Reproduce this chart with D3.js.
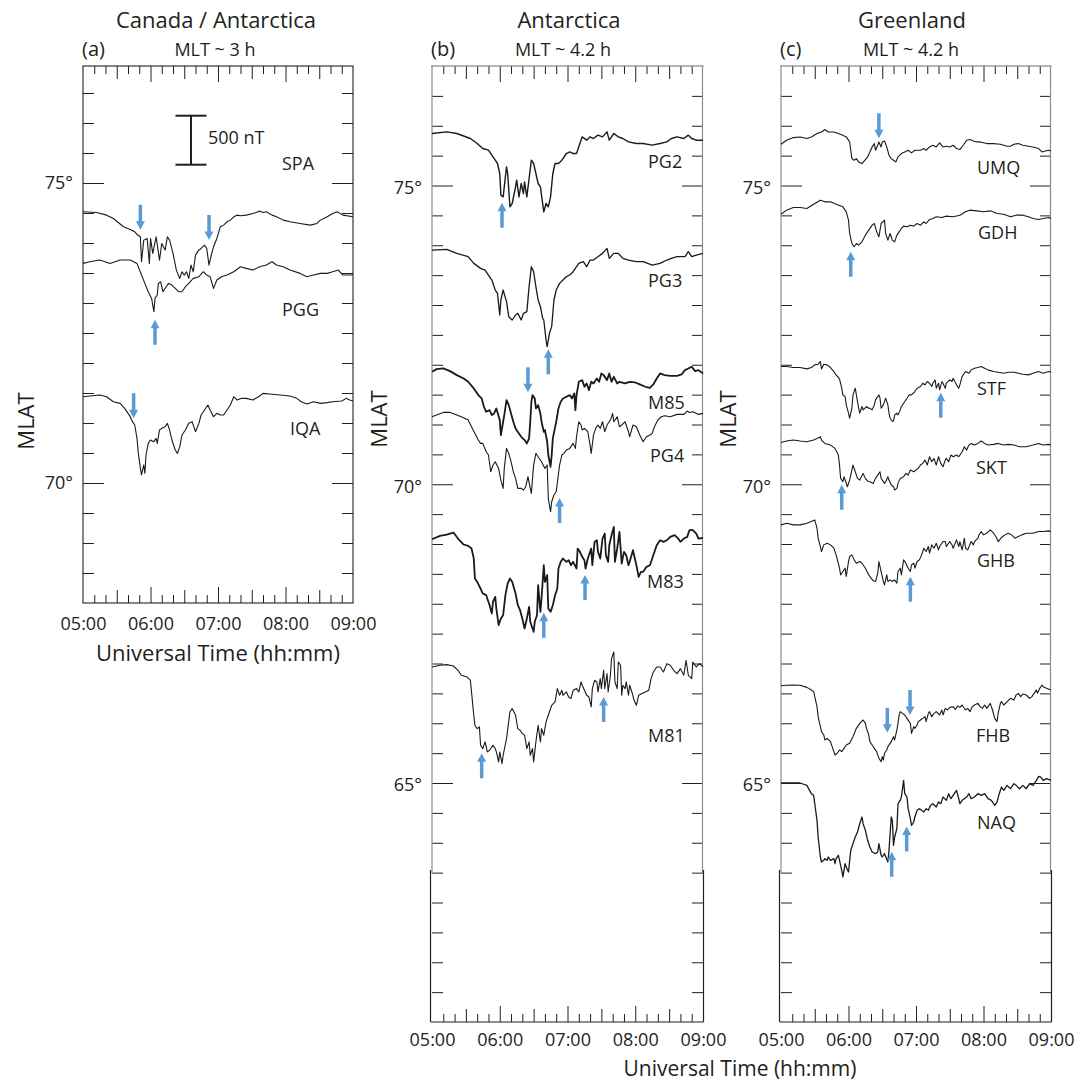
<!DOCTYPE html>
<html><head><meta charset="utf-8">
<script src="https://cdn.jsdelivr.net/npm/d3@7"></script>
<style>
body{margin:0;background:#fff;}
svg{display:block;font-family:"Open Sans",sans-serif;}
</style></head><body>
<svg id="chart" width="1091" height="1082"></svg>
<script>
// ---------------- DATA ----------------
// time in minutes after 05:00 UT, value = H perturbation in nT relative to station baseline
const timeTickValues = [0, 60, 120, 180, 240];
const timeTickLabels = ["05:00", "06:00", "07:00", "08:00", "09:00"];
const latTickLabelsA = [70, 75];
const latTickLabelsBC = [65, 70, 75];

const stationsA = ["SPA", "PGG", "IQA"];
const mlatA = [74.52, 73.66, 71.45];
const stationsB = ["PG2", "PG3", "M85", "PG4", "M83", "M81"];
const mlatB = [75.87, 73.92, 71.91, 71.13, 69.08, 66.97];
const stationsC = ["UMQ", "GDH", "STF", "SKT", "GHB", "FHB", "NAQ"];
const mlatC = [75.69, 74.52, 71.97, 70.70, 69.32, 66.64, 65.00];

const SPA = [[0,0],[12,-7],[21,-34],[27,-68],[36,-153],[42,-180],[46,-204],[48,-231],[51,-255],[52,-510],[54,-289],[57,-272],[59,-527],[60,-272],[62,-425],[65,-255],[68,-493],[70,-323],[73,-391],[75,-255],[77,-289],[80,-425],[83,-595],[86,-680],[88,-612],[90,-646],[92,-612],[94,-680],[96,-544],[98,-612],[100,-442],[103,-391],[105,-374],[108,-340],[110,-374],[112,-544],[114,-442],[116,-357],[119,-272],[122,-153],[125,-136],[128,-102],[131,-85],[134,-51],[137,-34],[140,-41],[145,-34],[151,-17],[154,-7],[157,7],[160,-7],[163,0],[168,-34],[172,-51],[178,-85],[184,-102],[193,-119],[202,-136],[208,-119],[211,-85],[217,-51],[222,-17],[226,0],[231,-34],[240,-51]];
const PGG = [[0,0],[6,17],[15,34],[24,0],[33,34],[42,34],[48,0],[52,-119],[55,-204],[58,-289],[61,-357],[62,-425],[63,-493],[64,-357],[66,-323],[67,-204],[69,-187],[71,-289],[74,-238],[76,-204],[79,-221],[82,-255],[85,-289],[88,-289],[91,-238],[94,-204],[98,-153],[103,-136],[107,-85],[110,-119],[113,-136],[116,-255],[119,-170],[123,-136],[128,-119],[134,-85],[140,-34],[145,-51],[151,-68],[157,-34],[163,-17],[168,17],[172,-17],[178,-34],[184,-68],[193,-102],[199,-136],[205,-119],[211,-102],[217,-102],[222,-85],[227,-68],[231,-119],[240,-119]];
const IQA = [[0,-7],[6,0],[15,10],[21,-7],[27,-58],[33,-75],[37,-126],[40,-177],[42,-211],[44,-262],[46,-296],[48,-432],[49,-568],[51,-738],[52,-806],[54,-704],[55,-789],[56,-602],[58,-483],[60,-449],[63,-466],[65,-432],[66,-483],[68,-347],[70,-330],[73,-313],[75,-279],[77,-347],[79,-449],[82,-551],[84,-585],[86,-517],[88,-398],[91,-347],[94,-279],[97,-262],[100,-364],[103,-279],[105,-194],[108,-143],[111,-92],[113,-143],[116,-211],[119,-177],[122,-194],[125,-194],[128,-143],[131,-92],[134,-7],[137,-41],[141,-24],[145,-24],[151,-41],[156,-7],[160,27],[166,20],[175,10],[184,0],[190,-24],[194,-58],[199,-82],[205,-58],[211,-75],[217,-68],[222,-58],[230,-51],[234,-24],[237,-41],[240,-48]];

const PG2 = [[0,0],[13,17],[22,0],[34,-51],[40,-102],[45,-153],[50,-170],[53,-221],[56,-272],[58,-306],[60,-408],[61,-629],[63,-646],[66,-340],[67,-408],[69,-748],[71,-714],[74,-544],[75,-476],[77,-646],[79,-510],[81,-612],[82,-493],[84,-646],[86,-459],[88,-272],[90,-306],[92,-408],[94,-510],[96,-544],[98,-714],[99,-799],[101,-714],[103,-748],[105,-646],[107,-408],[109,-306],[112,-306],[115,-272],[119,-204],[122,-187],[125,-204],[128,-204],[130,-136],[133,-34],[137,-68],[140,-34],[143,-51],[147,-17],[151,-34],[155,17],[157,-68],[161,0],[165,-34],[169,-51],[174,-85],[181,-102],[187,-102],[195,-119],[202,-102],[208,-85],[212,-51],[217,-34],[223,-51],[227,-17],[230,-51],[234,-68],[240,-68]];
const PG3 = [[0,0],[13,7],[22,-34],[32,-68],[37,-136],[43,-187],[47,-204],[50,-255],[53,-306],[56,-408],[58,-442],[60,-663],[61,-510],[63,-408],[66,-527],[68,-680],[71,-714],[74,-663],[76,-646],[79,-714],[81,-646],[84,-629],[86,-374],[88,-170],[90,-221],[92,-374],[94,-510],[96,-578],[98,-697],[99,-714],[101,-918],[102,-986],[104,-850],[106,-782],[108,-510],[110,-408],[113,-340],[116,-306],[119,-272],[122,-255],[125,-221],[128,-170],[130,-136],[134,-119],[137,-170],[140,-102],[143,-102],[147,-68],[151,-34],[155,17],[157,-85],[161,-34],[165,-34],[169,-85],[174,-102],[181,-119],[187,-119],[195,-153],[202,-136],[208,-102],[212,-85],[217,-68],[224,-68],[227,-17],[230,-68],[234,-51],[240,-34]];
const M85 = [[0,-17],[4,10],[10,17],[16,-10],[22,-51],[28,-85],[32,-119],[37,-187],[41,-255],[44,-289],[46,-374],[48,-425],[51,-408],[53,-459],[55,-442],[57,-391],[60,-510],[61,-663],[63,-527],[64,-459],[66,-306],[68,-357],[70,-442],[72,-527],[74,-595],[77,-646],[79,-680],[82,-714],[84,-748],[86,-697],[87,-527],[88,-323],[89,-255],[91,-289],[92,-391],[94,-357],[96,-442],[97,-527],[99,-629],[100,-612],[102,-731],[103,-867],[105,-986],[106,-867],[107,-697],[110,-527],[112,-391],[114,-323],[116,-289],[119,-272],[122,-255],[124,-289],[126,-238],[127,-408],[128,-255],[130,-119],[133,-102],[135,-170],[137,-136],[139,-204],[141,-119],[143,-136],[146,-85],[148,-119],[150,-34],[152,-51],[155,-102],[157,-34],[159,-119],[161,-68],[164,-136],[166,-119],[171,-136],[175,-119],[180,-126],[184,-146],[189,-170],[193,-180],[196,-146],[199,-85],[202,-34],[206,-51],[211,-58],[217,-58],[221,-44],[224,0],[227,17],[230,34],[233,-10],[236,0],[240,-34]];
const PG4 = [[0,0],[4,17],[10,44],[16,44],[22,17],[28,-10],[32,-34],[35,-102],[38,-170],[41,-238],[43,-272],[45,-272],[48,-357],[50,-391],[52,-561],[54,-493],[56,-459],[59,-527],[61,-646],[63,-731],[64,-527],[66,-323],[68,-374],[70,-459],[72,-561],[74,-629],[76,-731],[79,-731],[81,-748],[83,-714],[85,-612],[87,-731],[88,-782],[90,-493],[92,-374],[94,-408],[97,-459],[100,-527],[102,-493],[103,-833],[105,-969],[106,-867],[108,-799],[110,-765],[113,-493],[115,-391],[117,-374],[119,-340],[122,-323],[125,-272],[127,-323],[128,-204],[130,-51],[132,-85],[133,-136],[135,-119],[138,-153],[140,-289],[141,-374],[143,-187],[145,-119],[147,-85],[149,-119],[151,-51],[153,-153],[155,-85],[158,-34],[160,34],[161,-51],[164,0],[166,-102],[168,-85],[171,-51],[174,-153],[175,-204],[178,-85],[181,-102],[184,-187],[187,-255],[190,-204],[193,-187],[195,-170],[197,-102],[200,-34],[203,0],[206,10],[211,0],[217,24],[223,24],[226,58],[228,44],[231,51],[236,24],[240,34]];
const M83 = [[0,0],[7,34],[13,48],[19,68],[23,7],[28,-54],[32,-68],[35,-95],[37,-197],[38,-401],[40,-435],[43,-503],[45,-554],[48,-571],[51,-673],[53,-758],[54,-639],[56,-588],[57,-707],[59,-877],[61,-809],[63,-775],[65,-571],[67,-452],[69,-401],[71,-435],[74,-554],[76,-673],[78,-724],[80,-809],[82,-911],[84,-809],[86,-690],[87,-843],[90,-945],[91,-843],[93,-775],[94,-469],[96,-741],[97,-605],[99,-265],[100,-435],[102,-367],[103,-707],[105,-741],[107,-673],[109,-571],[111,-503],[112,-299],[114,-231],[116,-197],[119,-231],[121,-214],[123,-265],[125,-231],[128,-299],[129,-95],[131,-129],[133,-180],[135,-214],[136,-299],[138,-197],[141,-95],[142,-265],[144,-27],[146,-10],[147,-129],[149,-197],[151,7],[153,58],[154,-163],[156,-231],[157,-61],[159,41],[161,126],[162,-231],[164,-95],[166,75],[168,-248],[170,-129],[172,-163],[174,-265],[175,-231],[178,-112],[181,-265],[183,-384],[185,-333],[187,-333],[190,-282],[193,-265],[196,-163],[199,-61],[202,-10],[205,-27],[208,-10],[211,24],[215,41],[218,7],[220,-27],[223,7],[226,24],[228,92],[231,92],[234,58],[236,7],[240,14]];
const M81 = [[0,-17],[7,0],[13,7],[19,-7],[23,-51],[26,-102],[31,-119],[34,-153],[35,-272],[37,-510],[38,-612],[40,-646],[42,-629],[43,-816],[45,-850],[47,-782],[49,-884],[51,-867],[54,-816],[56,-850],[57,-884],[59,-986],[60,-884],[62,-1003],[63,-918],[66,-748],[69,-476],[71,-442],[74,-510],[76,-646],[78,-663],[80,-697],[82,-714],[84,-850],[86,-782],[87,-918],[89,-850],[90,-986],[92,-782],[94,-612],[96,-782],[97,-646],[99,-714],[101,-578],[103,-510],[106,-408],[109,-374],[111,-238],[113,-306],[115,-255],[116,-306],[119,-272],[121,-323],[123,-340],[125,-255],[128,-238],[130,-272],[132,-170],[133,-204],[135,-255],[137,-306],[139,-323],[141,-425],[142,-238],[144,-153],[146,-170],[147,-272],[149,-136],[150,-238],[152,-51],[153,-238],[155,-85],[156,-272],[158,-102],[159,68],[161,136],[162,-170],[164,-238],[165,34],[167,0],[168,-306],[169,-204],[171,-238],[172,-170],[174,-306],[175,-204],[177,-272],[179,-357],[181,-408],[183,-306],[186,-289],[189,-272],[192,-255],[194,-136],[196,-68],[199,-17],[202,-17],[205,-68],[208,17],[211,0],[214,-51],[217,-85],[220,-34],[223,-102],[225,51],[227,-102],[230,-136],[231,34],[234,-17],[237,17],[240,-17]];

const UMQ = [[0,0],[5,41],[11,68],[17,75],[23,58],[27,75],[32,109],[36,126],[39,150],[42,126],[47,126],[51,109],[55,92],[58,75],[61,24],[62,-61],[63,-146],[65,-163],[67,-146],[69,-180],[72,-197],[75,-156],[77,-129],[79,-78],[81,-27],[83,7],[84,-61],[86,-10],[87,24],[89,-27],[90,24],[92,34],[94,-27],[96,-112],[98,-146],[100,-163],[102,-180],[104,-129],[107,-95],[110,-78],[113,-61],[116,-88],[119,-61],[124,-61],[127,-44],[129,-61],[132,-27],[135,-10],[138,-27],[141,14],[144,-27],[147,-20],[150,-27],[153,-10],[156,-44],[159,-54],[162,-10],[165,41],[168,48],[171,34],[174,24],[177,24],[183,7],[189,7],[195,0],[201,-20],[204,-20],[207,0],[211,7],[215,-10],[220,-20],[224,-27],[229,-44],[232,-78],[235,-68],[238,-61],[240,-68]];
const GDH = [[0,0],[5,41],[11,68],[17,68],[23,58],[29,102],[35,143],[39,126],[44,126],[49,102],[55,75],[58,24],[60,-61],[61,-197],[63,-299],[65,-333],[67,-299],[69,-316],[72,-282],[75,-214],[78,-163],[81,-112],[83,-95],[85,-180],[87,-231],[88,-163],[89,-95],[92,-61],[93,-197],[95,-265],[97,-197],[99,-265],[101,-282],[103,-214],[105,-180],[107,-146],[109,-122],[112,-129],[115,-112],[118,-122],[121,-95],[124,-112],[127,-78],[129,-95],[132,-54],[135,-44],[138,-27],[143,-34],[147,-20],[153,-27],[159,-10],[164,24],[168,41],[174,34],[180,24],[186,34],[192,7],[198,0],[204,-27],[209,-10],[215,-10],[220,-27],[224,-44],[229,-54],[233,-44],[238,-34],[240,-44]];
const STF = [[0,0],[5,0],[11,-10],[17,-10],[23,-24],[27,-10],[30,17],[33,24],[35,51],[36,-24],[38,24],[41,17],[44,-10],[47,-51],[49,-85],[52,-126],[54,-221],[55,-289],[57,-306],[58,-391],[60,-476],[61,-527],[63,-425],[64,-289],[66,-221],[67,-289],[69,-425],[70,-476],[72,-408],[73,-442],[76,-408],[78,-425],[79,-425],[81,-442],[83,-391],[84,-340],[87,-289],[88,-323],[89,-425],[91,-391],[93,-323],[95,-391],[96,-476],[97,-527],[99,-561],[100,-554],[101,-493],[103,-476],[104,-493],[106,-442],[107,-408],[109,-374],[112,-323],[114,-289],[116,-289],[119,-255],[121,-221],[124,-204],[126,-170],[128,-187],[130,-153],[132,-170],[134,-204],[135,-170],[137,-136],[138,-221],[140,-170],[141,-238],[143,-153],[144,-170],[146,-221],[147,-170],[150,-136],[152,-153],[153,-119],[156,-187],[158,-221],[159,-187],[161,-102],[164,-51],[167,-68],[169,-34],[172,-17],[175,-10],[178,0],[181,-17],[184,-34],[189,-51],[193,-58],[198,-68],[202,-58],[207,-58],[211,-68],[215,-78],[220,-85],[224,-68],[229,-51],[233,-68],[238,-51],[240,-58]];
const SKT = [[0,0],[5,14],[11,24],[17,14],[23,7],[29,24],[32,41],[35,58],[36,24],[39,-10],[44,-27],[48,-61],[51,-129],[52,-231],[53,-367],[55,-401],[56,-350],[58,-418],[59,-452],[61,-384],[62,-333],[64,-231],[66,-299],[68,-367],[70,-384],[73,-316],[75,-367],[77,-394],[79,-401],[82,-418],[84,-367],[87,-316],[88,-299],[89,-367],[92,-418],[93,-401],[95,-350],[96,-384],[98,-435],[100,-452],[101,-486],[103,-469],[104,-418],[106,-367],[109,-350],[111,-316],[113,-333],[115,-282],[118,-299],[120,-282],[122,-265],[124,-231],[126,-214],[128,-180],[130,-231],[132,-146],[134,-197],[136,-163],[138,-231],[140,-146],[142,-214],[144,-248],[146,-180],[147,-163],[149,-197],[151,-129],[153,-146],[156,-129],[158,-146],[161,-95],[163,-44],[165,-78],[167,-27],[169,-10],[172,-27],[175,-10],[178,14],[181,-10],[184,-27],[189,-20],[193,-10],[198,-27],[202,-20],[207,-27],[212,-44],[218,-44],[224,-27],[229,-10],[233,-27],[238,-20],[240,-27]];
const GHB = [[0,0],[5,17],[11,0],[17,0],[23,17],[27,34],[30,51],[32,-34],[33,-136],[35,-221],[36,-272],[38,-204],[41,-187],[44,-204],[47,-238],[49,-306],[52,-442],[53,-510],[55,-476],[57,-442],[58,-527],[60,-374],[61,-323],[63,-306],[65,-357],[67,-391],[70,-374],[72,-391],[75,-442],[78,-510],[80,-544],[82,-571],[84,-578],[86,-493],[87,-374],[89,-476],[91,-578],[92,-612],[94,-510],[95,-578],[97,-561],[99,-578],[101,-561],[103,-595],[104,-476],[106,-442],[107,-510],[109,-357],[111,-391],[113,-442],[115,-476],[116,-408],[118,-391],[119,-442],[121,-374],[123,-357],[125,-306],[127,-238],[129,-272],[131,-221],[132,-289],[134,-204],[136,-238],[138,-187],[140,-255],[141,-221],[144,-170],[146,-170],[147,-221],[150,-170],[152,-204],[153,-238],[156,-153],[158,-221],[159,-170],[161,-255],[163,-136],[164,-238],[166,-255],[169,-170],[171,-204],[172,-170],[175,-136],[176,-102],[178,-68],[180,-102],[183,-85],[186,-51],[189,-85],[191,-119],[193,-170],[196,-129],[199,-102],[202,-85],[205,-102],[208,-136],[211,-119],[214,-102],[218,-85],[224,-85],[229,-68],[233,-68],[238,-61],[240,-68]];
const FHB = [[0,-7],[5,-3],[11,0],[17,-3],[23,-24],[27,-51],[29,-68],[30,-119],[32,-221],[33,-323],[35,-425],[36,-476],[38,-510],[39,-561],[41,-544],[44,-578],[46,-646],[48,-714],[50,-697],[52,-663],[54,-680],[56,-646],[58,-612],[61,-595],[64,-527],[67,-442],[70,-391],[73,-357],[75,-391],[76,-442],[78,-510],[79,-578],[81,-612],[83,-646],[85,-680],[87,-748],[89,-782],[90,-731],[91,-765],[92,-697],[94,-663],[95,-629],[97,-595],[98,-578],[100,-527],[101,-561],[103,-459],[104,-391],[105,-306],[106,-272],[108,-289],[110,-306],[112,-340],[115,-391],[116,-493],[118,-425],[119,-442],[121,-408],[122,-374],[124,-357],[126,-340],[128,-323],[129,-374],[131,-289],[132,-272],[134,-323],[136,-289],[138,-272],[141,-306],[143,-255],[144,-306],[146,-238],[148,-255],[150,-228],[153,-221],[155,-248],[157,-214],[159,-228],[161,-204],[164,-255],[166,-238],[168,-272],[170,-221],[172,-204],[175,-187],[177,-221],[179,-238],[181,-204],[183,-238],[186,-187],[188,-255],[190,-340],[192,-374],[193,-289],[195,-187],[196,-170],[198,-204],[201,-170],[204,-136],[207,-153],[209,-102],[211,-85],[213,-119],[215,-92],[218,-102],[221,-136],[223,-119],[225,-85],[227,-51],[228,-85],[230,-34],[232,0],[233,-17],[236,-34],[240,-51]];
const NAQ = [[0,0],[8,0],[17,0],[23,-24],[27,-109],[29,-126],[30,-211],[32,-381],[33,-551],[35,-755],[36,-806],[38,-789],[39,-772],[41,-789],[42,-755],[44,-789],[47,-772],[48,-823],[49,-772],[51,-738],[52,-789],[54,-891],[55,-959],[57,-823],[58,-857],[60,-908],[62,-687],[64,-619],[66,-551],[68,-500],[70,-415],[72,-347],[73,-415],[75,-483],[77,-585],[79,-653],[81,-704],[84,-721],[86,-704],[87,-619],[89,-738],[90,-755],[92,-721],[95,-806],[96,-687],[98,-347],[99,-381],[100,-636],[101,-551],[103,-466],[104,-211],[106,-177],[107,-143],[109,27],[110,-109],[112,-143],[113,-262],[115,-364],[116,-432],[118,-398],[119,-347],[121,-279],[123,-262],[125,-279],[127,-296],[129,-262],[131,-279],[133,-228],[135,-211],[138,-245],[140,-194],[142,-211],[144,-143],[147,-177],[149,-109],[151,-160],[153,-126],[156,-75],[158,-160],[159,-211],[161,-177],[163,-160],[165,-143],[167,-109],[169,-160],[172,-143],[175,-109],[178,-126],[181,-109],[184,-160],[187,-177],[190,-228],[192,-194],[194,-109],[196,-41],[198,-75],[201,-24],[204,-58],[207,-7],[209,-24],[212,-58],[215,-24],[218,-58],[221,-7],[224,-24],[227,27],[229,68],[231,61],[233,27],[236,44],[240,27]];

// event arrows: [time (min after 05:00), MLAT of arrow tip, direction]
const arrowsA = [[51, 74.22, "down"], [112, 74.05, "down"], [64, 72.72, "up"], [45, 71.08, "down"]];
const arrowsB = [[62, 74.71, "up"], [103, 72.26, "up"], [85, 71.54, "down"], [113, 69.77, "up"], [99, 67.85, "up"], [135.5, 68.48, "up"], [44, 65.5, "up"], [152, 66.44, "up"]];
const arrowsC = [[87, 75.79, "down"], [62, 73.89, "up"], [142, 71.53, "up"], [54, 69.99, "up"], [115, 68.45, "up"], [94.5, 65.84, "down"], [114.7, 66.14, "down"], [98.4, 63.85, "up"], [111.7, 64.27, "up"]];

const scaleBarNT = 500;

// ---------------- DRAWING ----------------
const traces = {SPA, PGG, IQA, PG2, PG3, M85, PG4, M83, M81, UMQ, GDH, STF, SKT, GHB, FHB, NAQ};
const strokeW = {M83: 1.8, M85: 1.8, PG2: 1.4, PG3: 1.3, NAQ: 1.3};
const labelPos = {
  SPA: [282, 170], PGG: [282, 316], IQA: [290, 435],
  PG2: [648, 168], PG3: [648, 287], M85: [648, 409], PG4: [650, 462], M83: [647, 588], M81: [648, 742],
  UMQ: [977, 174], GDH: [978, 239], STF: [977, 395], SKT: [976, 474], GHB: [977, 567], FHB: [976, 742], NAQ: [977, 829]
};
const INK = "#231f20";
const ARROW = "#5b9bd5";
const svg = d3.select("#chart");
const nT = d3.scaleLinear().domain([0, 500]).range([0, 49]);

const panels = [
  {left: 83, right: 353, top: 66, bottom: 603, lat: [68, 76.95], stations: stationsA, mlat: mlatA, arrows: arrowsA,
   latLabels: latTickLabelsA, title: "Canada / Antarctica", letter: "(a)", mlt: "MLT ~ 3 h", titleX: 216, mltX: 215,
   xlabPad: 14, mlatPos: [25, 421], showXTitle: true, labDy: 0, split: null},
  {left: 432, right: 703, top: 66, bottom: 1022, lat: [61, 77], stations: stationsB, mlat: mlatB, arrows: arrowsB,
   latLabels: latTickLabelsBC, title: "Antarctica", letter: "(b)", mlt: "MLT ~ 4.2 h", titleX: 569, mltX: 563,
   xlabPad: 11, mlatPos: [378, 419], showXTitle: false, labDy: 2, split: 873},
  {left: 781, right: 1051, top: 66, bottom: 1022, lat: [61, 77], stations: stationsC, mlat: mlatC, arrows: arrowsC,
   latLabels: latTickLabelsBC, title: "Greenland", letter: "(c)", mlt: "MLT ~ 4.2 h", titleX: 912, mltX: 911,
   xlabPad: 11, mlatPos: [727, 419], showXTitle: false, labDy: 2, split: 873}
];

function styleAxis(sel) {
  sel.select(".domain").remove();
  sel.selectAll("line").attr("stroke", INK).attr("stroke-width", 1);
  sel.selectAll("text").attr("fill", INK).attr("font-family", "'Open Sans', sans-serif");
}

panels.forEach(p => {
  const g = svg.append("g");
  const x = d3.scaleLinear().domain([0, 240]).range([p.left, p.right]);
  const y = d3.scaleLinear().domain(p.lat).range([p.bottom, p.top]);

  // time ticks
  const all10 = d3.range(10, 240, 10);
  const t60 = all10.filter(t => t % 60 === 0);
  const t30 = all10.filter(t => t % 30 === 0 && t % 60 !== 0);
  const t10 = all10.filter(t => t % 30 !== 0);
  [[t10, 8], [t30, 13], [t60, 16]].forEach(([vals, len]) => {
    g.append("g").attr("transform", `translate(0,${p.bottom})`)
      .call(d3.axisBottom(x).tickValues(vals).tickSize(-len).tickFormat("")).call(styleAxis);
    g.append("g").attr("transform", `translate(0,${p.top})`)
      .call(d3.axisTop(x).tickValues(vals).tickSize(-len).tickFormat("")).call(styleAxis);
  });
  const xl = g.append("g").attr("transform", `translate(0,${p.bottom})`)
    .call(d3.axisBottom(x).tickValues(timeTickValues).tickSize(0).tickPadding(p.xlabPad)
      .tickFormat((d, i) => timeTickLabels[i]));
  xl.call(styleAxis);
  xl.selectAll("text").attr("font-size", 18);

  // latitude ticks
  const latTicks = d3.range(Math.ceil(p.lat[0] * 2) / 2, p.lat[1], 0.5)
    .filter(v => v > p.lat[0] + 0.01 && v < p.lat[1] - 0.01);
  const minorLat = latTicks.filter(v => v % 5 !== 0);
  const majorLat = latTicks.filter(v => v % 5 === 0);
  [[minorLat, 11], [majorLat, 21]].forEach(([vals, len]) => {
    g.append("g").attr("transform", `translate(${p.left},0)`)
      .call(d3.axisLeft(y).tickValues(vals).tickSize(-len).tickFormat("")).call(styleAxis);
    g.append("g").attr("transform", `translate(${p.right},0)`)
      .call(d3.axisRight(y).tickValues(vals).tickSize(-len).tickFormat("")).call(styleAxis);
  });
  const yl = g.append("g").attr("transform", `translate(${p.left},0)`)
    .call(d3.axisLeft(y).tickValues(p.latLabels).tickSize(0).tickPadding(10).tickFormat(d => d + "°"));
  yl.call(styleAxis);
  yl.selectAll("text").attr("font-size", 18).attr("dy", (0.32 * 18 + p.labDy) + "px");

  // frame
  if (p.split === null) {
    g.append("rect").attr("x", p.left).attr("y", p.top)
      .attr("width", p.right - p.left).attr("height", p.bottom - p.top)
      .attr("fill", "none").attr("stroke", INK).attr("stroke-width", 1.1);
  } else {
    // top and bottom edges
    [p.top, p.bottom].forEach(yy => g.append("line").attr("x1", p.left - 1).attr("x2", p.right + 0.5)
      .attr("y1", yy).attr("y2", yy).attr("stroke", yy === p.top ? "#6d6d6d" : INK).attr("stroke-width", 1.1));
    // upper (lighter) and lower segments of the side edges
    [[p.left, "#8c8c8c", p.top, p.split], [p.left - 1.5, INK, p.split - 3, p.bottom],
     [p.right - 0.5, "#8c8c8c", p.top, p.split], [p.right + 0.5, INK, p.split - 3, p.bottom]]
      .forEach(([xx, c, y1, y2]) => g.append("line").attr("x1", xx).attr("x2", xx)
        .attr("y1", y1).attr("y2", y2).attr("stroke", c).attr("stroke-width", 1.2));
  }

  // traces
  p.stations.forEach((name, i) => {
    const base = p.mlat[i];
    const line = d3.line().x(d => x(d[0])).y(d => y(base) - nT(d[1]));
    g.append("path").datum(traces[name]).attr("d", line)
      .attr("fill", "none").attr("stroke", "#1a1a1a")
      .attr("stroke-width", strokeW[name] || 1.1).attr("stroke-linejoin", "round");
    g.append("text").attr("x", labelPos[name][0]).attr("y", labelPos[name][1])
      .attr("font-size", 18).attr("fill", INK).text(name);
  });

  // arrows
  p.arrows.forEach(([t, lat, dir]) => {
    const ax = x(t), ay = y(lat);
    const s = dir === "up" ? 1 : -1; // up: tail below tip
    const L = 25, hw = 4.5, hl = 8.5, sw = 1.75;
    const path = d3.path();
    path.moveTo(ax, ay);
    path.lineTo(ax + hw, ay + s * hl);
    path.lineTo(ax + sw, ay + s * hl);
    path.lineTo(ax + sw, ay + s * L);
    path.lineTo(ax - sw, ay + s * L);
    path.lineTo(ax - sw, ay + s * hl);
    path.lineTo(ax - hw, ay + s * hl);
    path.closePath();
    g.append("path").attr("d", path.toString()).attr("fill", ARROW);
  });

  // titles
  g.append("text").attr("x", p.titleX).attr("y", 28).attr("text-anchor", "middle")
    .attr("font-size", 22).attr("fill", INK).text(p.title);
  g.append("text").attr("x", p.left - 1).attr("y", 56)
    .attr("font-size", 20).attr("fill", INK).text(p.letter);
  g.append("text").attr("x", p.mltX).attr("y", 56).attr("text-anchor", "middle")
    .attr("font-size", 18).attr("fill", INK).text(p.mlt);
  g.append("text").attr("transform", `translate(${p.mlatPos[0]},${p.mlatPos[1]}) rotate(-90)`)
    .attr("text-anchor", "middle").attr("dominant-baseline", "central")
    .attr("font-size", 22).attr("fill", INK).text("MLAT");
  if (p.showXTitle) {
    g.append("text").attr("x", (p.left + p.right) / 2).attr("y", 661).attr("text-anchor", "middle")
      .attr("font-size", 22).attr("fill", INK).text("Universal Time (hh:mm)");
  }

  // scale bar (panel a only)
  if (p.letter === "(a)") {
    const bx = x(96), by0 = y(75.305), by1 = by0 - nT(scaleBarNT);
    g.append("line").attr("x1", bx).attr("x2", bx).attr("y1", by0).attr("y2", by1)
      .attr("stroke", INK).attr("stroke-width", 2);
    [by0, by1].forEach(yy => g.append("line").attr("x1", bx - 15.5).attr("x2", bx + 15.5)
      .attr("y1", yy).attr("y2", yy).attr("stroke", INK).attr("stroke-width", 2));
    g.append("text").attr("x", bx + 17).attr("y", 144).attr("font-size", 18)
      .attr("fill", INK).text(scaleBarNT + " nT");
  }
});

// shared x-axis title for panels b and c
svg.append("text").attr("x", 740).attr("y", 1076).attr("text-anchor", "middle")
  .attr("font-size", 21).attr("fill", INK).text("Universal Time (hh:mm)");
</script></body></html>
